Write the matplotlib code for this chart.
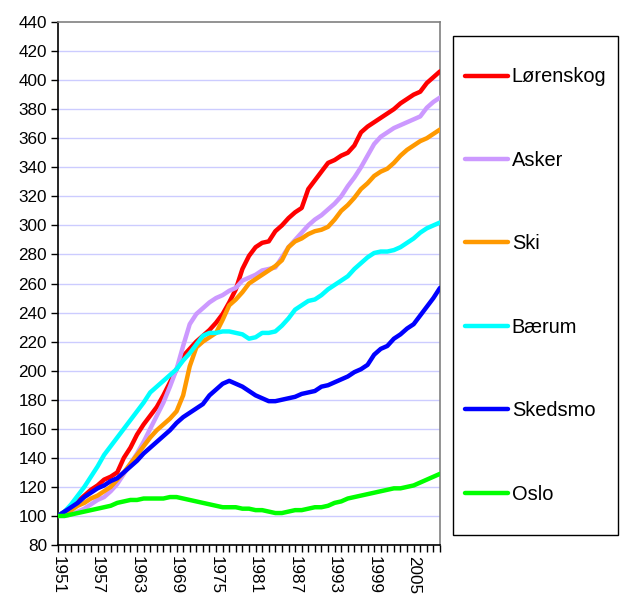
import matplotlib
matplotlib.use("Agg")
import matplotlib.pyplot as plt
from matplotlib.patches import Rectangle

years = list(range(1951, 2010))

lorenskog = [100, 103, 106, 110, 114, 118, 121, 125, 127, 130,
             140, 147, 156, 163, 169, 175, 183, 192, 201, 210,
             215, 220, 224, 228, 233, 239, 247, 256, 270, 279,
             285, 288, 289, 296, 300, 305, 309, 312, 325, 331,
             337, 343, 345, 348, 350, 355, 364, 368, 371, 374,
             377, 380, 384, 387, 390, 392, 398, 402, 406]

asker = [100, 100, 101, 103, 105, 108, 111, 113, 117, 122,
         129, 136, 143, 151, 160, 169, 178, 189, 201, 217,
         232, 239, 243, 247, 250, 252, 255, 257, 262, 264,
         266, 269, 270, 271, 278, 285, 290, 295, 300, 304,
         307, 311, 315, 320, 327, 333, 340, 348, 356, 361,
         364, 367, 369, 371, 373, 375, 381, 385, 388]

ski = [100, 102, 104, 107, 109, 112, 114, 117, 120, 125,
       130, 136, 142, 148, 154, 159, 163, 167, 172, 183,
       203, 216, 220, 223, 226, 235, 245, 249, 254, 260,
       263, 266, 269, 272, 276, 285, 289, 291, 294, 296,
       297, 299, 304, 310, 314, 319, 325, 329, 334, 337,
       339, 343, 348, 352, 355, 358, 360, 363, 366]

baerum = [100, 103, 108, 114, 120, 127, 134, 142, 148, 154,
          160, 166, 172, 178, 185, 189, 193, 197, 201, 207,
          212, 218, 224, 226, 226, 227, 227, 226, 225, 222,
          223, 226, 226, 227, 231, 236, 242, 245, 248, 249,
          252, 256, 259, 262, 265, 270, 274, 278, 281, 282,
          282, 283, 285, 288, 291, 295, 298, 300, 302]

skedsmo = [100, 103, 106, 109, 113, 116, 119, 121, 124, 126,
           130, 134, 138, 143, 147, 151, 155, 159, 164, 168,
           171, 174, 177, 183, 187, 191, 193, 191, 189, 186,
           183, 181, 179, 179, 180, 181, 182, 184, 185, 186,
           189, 190, 192, 194, 196, 199, 201, 204, 211, 215,
           217, 222, 225, 229, 232, 238, 244, 250, 257]

oslo = [100, 100, 101, 102, 103, 104, 105, 106, 107, 109,
        110, 111, 111, 112, 112, 112, 112, 113, 113, 112,
        111, 110, 109, 108, 107, 106, 106, 106, 105, 105,
        104, 104, 103, 102, 102, 103, 104, 104, 105, 106,
        106, 107, 109, 110, 112, 113, 114, 115, 116, 117,
        118, 119, 119, 120, 121, 123, 125, 127, 129]

series_names = ["Lørenskog", "Asker", "Ski", "Bærum", "Skedsmo", "Oslo"]
series_values = [lorenskog, asker, ski, baerum, skedsmo, oslo]
series_colors = ["#FF0000", "#CC99FF", "#FF9900", "#00FFFF", "#0000FF", "#00FF00"]

y_ticks = list(range(80, 441, 20))
x_label_years = list(range(1951, 2006, 6))

plt.rcParams['font.family'] = ['Liberation Sans', 'DejaVu Sans']

W, H = 626, 597
fig = plt.figure(figsize=(W / 100, H / 100), dpi=100)
ax = fig.add_axes([58 / W, 1 - 545 / H, (440 - 58) / W, (545 - 22) / H])

handles = []
for name, vals, col in zip(series_names, series_values, series_colors):
    h, = ax.plot(years, vals, color=col, lw=3.2, label=name, solid_capstyle='round',
                 solid_joinstyle='round', zorder=3)
    handles.append(h)

ax.set_xlim(1951, 2009)
ax.set_ylim(80, 440)
ax.set_yticks(y_ticks)
ax.set_yticklabels([str(v) for v in y_ticks], fontsize=12.3)
for v in y_ticks[1:-1]:
    ax.axhline(v, color="#ccccff", lw=1.0, zorder=1)

ax.set_xticks(years)
ax.set_xticklabels([str(y) if y in x_label_years else "" for y in years],
                   rotation=270, fontsize=12.3, ha='center', va='top')
ax.tick_params(axis='x', direction='out', length=5, width=1, pad=3, color='black')
ax.tick_params(axis='y', direction='out', length=5, width=1, pad=3, color='black')

ax.spines['left'].set_color('black')
ax.spines['bottom'].set_color('black')
ax.spines['top'].set_color('#808080')
ax.spines['right'].set_color('#808080')
for s in ax.spines.values():
    s.set_linewidth(1.2)

# legend frame
rect = Rectangle((453 / W, 1 - 535 / H), (618 - 453) / W, (535 - 36) / H,
                 transform=fig.transFigure, fill=False, edgecolor='black', lw=1.0)
fig.patches.append(rect)

fig.legend(handles, series_names, loc='center',
           bbox_to_anchor=((453 + 618) / 2 / W, 1 - (36 + 535) / 2 / H),
           frameon=False, fontsize=14.4, handlelength=2.15, handletextpad=0.2,
           labelspacing=3.22, borderpad=0)

fig.savefig("out.png", dpi=100)
